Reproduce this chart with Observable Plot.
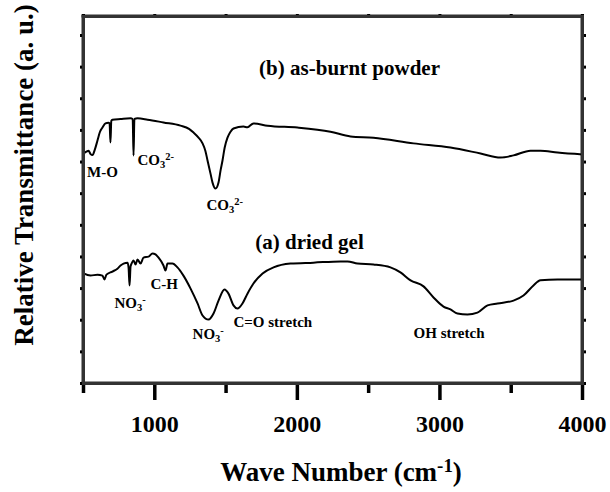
<!DOCTYPE html>
<html>
<head>
<meta charset="utf-8">
<script src="https://cdn.jsdelivr.net/npm/d3@7"></script>
<script src="https://cdn.jsdelivr.net/npm/@observablehq/plot@0.6"></script>
<style>
  html, body { margin: 0; padding: 0; background: #fff; }
</style>
</head>
<body>
<div id="chart"></div>
<script>
// (b) as-burnt powder
const wnB = [500, 520, 535, 550, 563, 580, 598, 615, 633, 654, 675, 683, 689, 695, 703, 760, 830, 845, 851, 857, 879, 949, 1061, 1180, 1240, 1272, 1305, 1335, 1355, 1370, 1390, 1405, 1426, 1447, 1462, 1475, 1490, 1510, 1530, 1552, 1622, 1650, 1692, 1791, 2001, 2232, 2373, 2534, 2815, 3074, 3285, 3425, 3516, 3635, 3705, 3825, 4000];
const tB  = [7.27, 7.33, 7.36, 7.25, 7.22, 7.40, 7.68, 7.95, 8.09, 8.22, 8.24, 8.22, 7.62, 8.30, 8.34, 8.36, 8.38, 8.36, 7.21, 8.36, 8.38, 8.34, 8.25, 8.15, 8.05, 7.93, 7.78, 7.59, 7.35, 7.05, 6.65, 6.35, 6.16, 6.35, 6.75, 7.05, 7.45, 7.77, 7.95, 8.06, 8.12, 8.10, 8.22, 8.15, 8.09, 7.96, 7.81, 7.77, 7.59, 7.46, 7.27, 7.14, 7.21, 7.36, 7.36, 7.30, 7.24];

// (a) dried gel
const wnA = [500, 549, 598, 633, 647, 661, 703, 738, 760, 781, 809, 816, 823, 830, 837, 851, 865, 879, 900, 921, 956, 984, 1005, 1026, 1061, 1075, 1089, 1124, 1159, 1201, 1251, 1300, 1335, 1377, 1412, 1447, 1489, 1517, 1552, 1580, 1615, 1650, 1692, 1756, 1833, 1952, 2113, 2303, 2352, 2422, 2534, 2653, 2723, 2794, 2885, 2955, 3025, 3074, 3123, 3193, 3263, 3334, 3404, 3516, 3586, 3656, 3705, 3825, 4000];
const tA  = [3.48, 3.41, 3.44, 3.41, 3.29, 3.44, 3.54, 3.63, 3.73, 3.79, 3.82, 3.67, 3.10, 3.70, 3.79, 3.89, 3.76, 3.92, 3.79, 3.98, 4.01, 4.11, 4.08, 3.98, 3.73, 3.57, 3.79, 3.79, 3.67, 3.41, 3.00, 2.53, 2.15, 2.02, 2.21, 2.62, 2.97, 2.84, 2.47, 2.37, 2.53, 2.84, 3.16, 3.48, 3.67, 3.79, 3.82, 3.86, 3.86, 3.79, 3.76, 3.67, 3.51, 3.26, 3.07, 2.72, 2.43, 2.34, 2.21, 2.18, 2.24, 2.47, 2.53, 2.62, 2.78, 3.10, 3.26, 3.29, 3.29];

// axes
const xDomain = [500, 4000];
const yDomain = [0, 11.6];
const xMajorTicks = [1000, 2000, 3000, 4000];
const xMinorTicks = [500, 1500, 2500, 3500];
const xTopTicks = [500, 1000, 1500, 2000, 2500, 3000, 3500, 4000];
const yTicks = [0, 1, 2, 3, 4, 5, 6, 7, 8, 9, 10, 11];

// annotations: "|_" subscript, "|^" superscript
const annoText = ["M-O", "CO|_3|^2-", "CO|_3|^2-", "NO|_3|^-", "C-H", "NO|_3|^-", "C=O stretch", "OH stretch"];
const annoWn   = [633, 879, 1363, 717, 970, 1265, 1552, 2815];
const annoT    = [6.67, 7.06, 5.63, 2.53, 3.14, 1.55, 1.93, 1.58];
const annoAnchor = ["middle", "start", "start", "start", "start", "start", "start", "start"];

const titleText = ["(b) as-burnt powder", "(a) dried gel"];
const titleWn = [2366, 2085];
const titleT = [9.96, 4.46];

const xLabel = "Wave Number (cm|^-1|)";
const yLabel = "Relative Transmittance (a. u.)";

const seriesB = wnB.map((w, i) => ({wn: w, t: tB[i]}));
const seriesA = wnA.map((w, i) => ({wn: w, t: tA[i]}));
const annos = annoText.map((s, i) => ({s, wn: annoWn[i], t: annoT[i], anchor: annoAnchor[i]}));
const titles = titleText.map((s, i) => ({s, wn: titleWn[i], t: titleT[i]}));

// frame sides as data for rect marks (left, right, bottom, top)
const sides = [
  {x1: xDomain[0], x2: xDomain[0], y1: yDomain[0], y2: yDomain[1]},
  {x1: xDomain[1], x2: xDomain[1], y1: yDomain[0], y2: yDomain[1]},
  {x1: xDomain[0], x2: xDomain[1], y1: yDomain[0], y2: yDomain[0]},
  {x1: xDomain[0], x2: xDomain[1], y1: yDomain[1], y2: yDomain[1]}
];

const font = "'Liberation Serif', 'Times New Roman', Times, serif";
const borderColor = "#333";

const chart = Plot.plot({
  width: 610,
  height: 492,
  marginLeft: 83,
  marginRight: 28,
  marginTop: 16,
  marginBottom: 109,
  x: {domain: xDomain},
  y: {domain: yDomain},
  style: {fontFamily: font, fontWeight: "bold", color: "black", background: "white"},
  marks: [
    Plot.rect(sides, {x1: "x1", x2: "x2", y1: "y1", y2: "y2", fill: borderColor, insetLeft: -1.5, insetRight: -1.5, insetTop: -1.5, insetBottom: -1.5}),
    Plot.line(seriesB, {x: "wn", y: "t", stroke: "black", strokeWidth: 2, curve: "monotone-x"}),
    Plot.line(seriesA, {x: "wn", y: "t", stroke: "black", strokeWidth: 2, curve: "monotone-x"}),
    Plot.axisX({ticks: xMajorTicks, tickSize: 17, tickPadding: 14, fontSize: 24, label: null, strokeWidth: 3.5, tickFormat: d => String(d)}),
    Plot.axisX({ticks: xMinorTicks, tickSize: 10, text: null, label: null, strokeWidth: 3.5}),
    Plot.axisX({anchor: "top", ticks: xTopTicks, tickSize: 3, text: null, label: null, strokeWidth: 3}),
    Plot.axisY({ticks: yTicks, tickSize: 3, text: null, label: null, strokeWidth: 3}),
    Plot.axisY({anchor: "right", ticks: yTicks, tickSize: 3, text: null, label: null, strokeWidth: 3}),
    Plot.text(titles, {x: "wn", y: "t", text: "s", fontSize: 21, fontWeight: "bold", fill: "black"}),
    Plot.text(annos.filter(d => d.anchor === "middle"), {x: "wn", y: "t", text: "s", fontSize: 15, fontWeight: "bold", fill: "black", textAnchor: "middle"}),
    Plot.text(annos.filter(d => d.anchor === "start"), {x: "wn", y: "t", text: "s", fontSize: 15, fontWeight: "bold", fill: "black", textAnchor: "start"}),
    Plot.text([xLabel], {frameAnchor: "bottom", textAnchor: "middle", lineAnchor: "middle", dx: 8, dy: 89, fontSize: 27, fontWeight: "bold", fill: "black"}),
    Plot.text([yLabel], {frameAnchor: "left", textAnchor: "middle", lineAnchor: "middle", rotate: -90, dx: -59, dy: -25, fontSize: 27, fontWeight: "bold", fill: "black"}),
    Plot.frame({stroke: borderColor, strokeWidth: 3})
  ]
});

// rich text: convert "|_x" to subscript and "|^x" to superscript tspans
d3.select(chart).selectAll("text").each(function() {
  const t = this.textContent;
  if (!t || !t.includes("|")) return;
  const parts = t.split("|");
  const el = d3.select(this);
  el.text(null);
  for (const p of parts) {
    if (p.startsWith("_")) {
      el.append("tspan").attr("baseline-shift", "-25%").attr("font-size", "70%").text(p.slice(1));
    } else if (p.startsWith("^")) {
      el.append("tspan").attr("baseline-shift", "45%").attr("font-size", "70%").text(p.slice(1));
    } else if (p.length) {
      el.append("tspan").text(p);
    }
  }
});

document.getElementById("chart").appendChild(chart);
</script>
</body>
</html>
